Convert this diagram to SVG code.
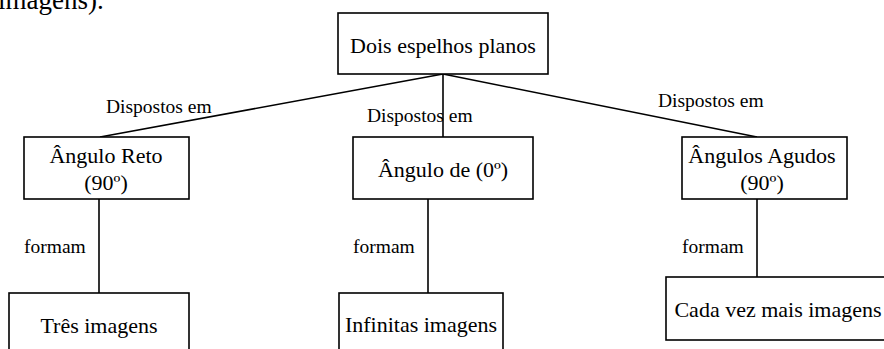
<svg xmlns="http://www.w3.org/2000/svg" width="884" height="349" viewBox="0 0 884 349">
<style>
.box{fill:#fff;stroke:#000;stroke-width:1.6}
.ln{stroke:#000;stroke-width:1.6;fill:none}
.t{font-family:"Liberation Serif","Times New Roman",serif;font-size:22px;fill:#000;text-anchor:middle}
.lb{font-family:"Liberation Serif","Times New Roman",serif;font-size:19.5px;fill:#000}
.frag{font-family:"Liberation Serif","Times New Roman",serif;font-size:27px;fill:#000}
</style>
<rect width="884" height="349" fill="#fff"/>
<text class="frag" x="-2" y="9">imagens).</text>
<g id="connectors">
<line class="ln" x1="443" y1="74" x2="100" y2="137"/>
<line class="ln" x1="443" y1="74" x2="443" y2="137"/>
<line class="ln" x1="443" y1="74" x2="757" y2="137"/>
<line class="ln" x1="99" y1="199" x2="99" y2="293"/>
<line class="ln" x1="428" y1="199" x2="428" y2="293"/>
<line class="ln" x1="757" y1="199" x2="757" y2="277"/>
<text class="lb" x="106" y="113">Dispostos em</text>
<text class="lb" x="367" y="122">Dispostos em</text>
<text class="lb" x="658" y="107">Dispostos em</text>
<text class="lb" x="24" y="253">formam</text>
<text class="lb" x="353" y="253">formam</text>
<text class="lb" x="682" y="253">formam</text>
</g>
<g id="n-dois">
<rect class="box" x="338" y="13" width="210" height="61"/>
<text class="t" x="443" y="53">Dois espelhos planos</text>
</g>
<g id="n-reto">
<rect class="box" x="24" y="137" width="165" height="62"/>
<text class="t" x="106" y="163">Ângulo Reto</text>
<text class="t" x="106" y="190">(90º)</text>
</g>
<g id="n-zero">
<rect class="box" x="353" y="137" width="180" height="62"/>
<text class="t" x="443" y="177">Ângulo de (0º)</text>
</g>
<g id="n-agudos">
<rect class="box" x="682" y="137" width="165" height="62"/>
<text class="t" x="762" y="163">Ângulos Agudos</text>
<text class="t" x="762" y="190">(90º)</text>
</g>
<g id="n-tres">
<rect class="box" x="9" y="293" width="180" height="70"/>
<text class="t" x="99" y="333">Três imagens</text>
</g>
<g id="n-infinitas">
<rect class="box" x="339" y="293" width="164" height="70"/>
<text class="t" x="421" y="332">Infinitas imagens</text>
</g>
<g id="n-cada">
<rect class="box" x="666" y="277" width="226" height="63"/>
<text class="t" x="778" y="317">Cada vez mais imagens</text>
</g>
</svg>
